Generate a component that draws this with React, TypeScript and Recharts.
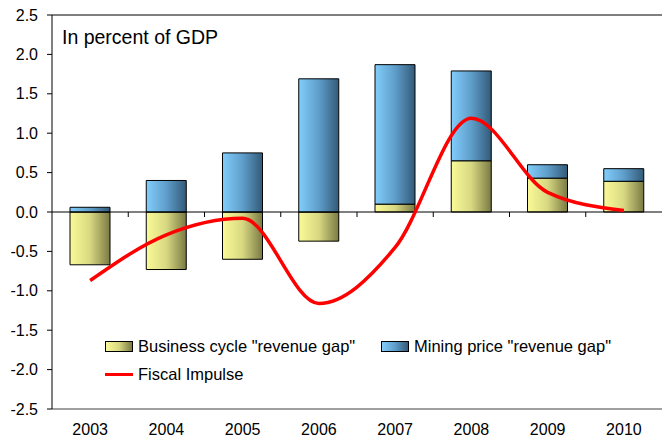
import React from 'react';
import { ComposedChart, Bar, Line, XAxis, YAxis, ReferenceLine } from 'recharts';

const years = ['2003', '2004', '2005', '2006', '2007', '2008', '2009', '2010'];
const businessCycle = [-0.67, -0.73, -0.6, -0.37, 0.1, 0.65, 0.43, 0.39];
const miningPrice = [0.06, 0.4, 0.75, 1.69, 1.77, 1.14, 0.17, 0.16];
const fiscalImpulse = [-0.87, -0.29, -0.08, -1.16, -0.45, 1.19, 0.25, 0.02];
const yTicks = [-2.5, -2, -1.5, -1, -0.5, 0, 0.5, 1, 1.5, 2, 2.5];

const data = years.map((year, i) => ({
  year,
  business: businessCycle[i],
  mining: miningPrice[i],
  fiscal: fiscalImpulse[i],
}));

const FONT = 'Arial, "Liberation Sans", sans-serif';

const ZeroLine = (props: any) => {
  const { x1, x2, y1 } = props;
  const n = years.length;
  const step = (x2 - x1) / n;
  const ticks = [];
  for (let i = 1; i < n; i++) {
    const x = x1 + step * i;
    ticks.push(<line key={i} x1={x} x2={x} y1={y1} y2={y1 + 5} stroke="#000" strokeWidth={1} />);
  }
  return (
    <g>
      <line x1={x1} x2={x2} y1={y1} y2={y1} stroke="#000" strokeWidth={1} />
      {ticks}
    </g>
  );
};

const Swatch = ({ grad }: { grad: string }) => (
  <div
    style={{
      width: 26,
      height: 9,
      border: '1px solid #000',
      background: grad,
      marginRight: 5,
    }}
  />
);

const yellowGrad = 'linear-gradient(to right, #fafa98, #d8d882 50%, #7a7a44)';
const blueGrad = 'linear-gradient(to right, #82cdfb, #5f9ecb 50%, #335a78)';

export default function App() {
  return (
    <div style={{ position: 'absolute', left: 0, top: 0, width: 662, height: 443, background: '#fff', fontFamily: FONT }}>
      <ComposedChart
        width={662}
        height={443}
        data={data}
        stackOffset="sign"
        margin={{ top: 15, right: 0, bottom: 0, left: 0 }}
      >
        <defs>
          <linearGradient id="gY" x1="0" y1="0" x2="1" y2="0">
            <stop offset="0%" stopColor="#fafa98" />
            <stop offset="50%" stopColor="#d8d882" />
            <stop offset="100%" stopColor="#7a7a44" />
          </linearGradient>
          <linearGradient id="gB" x1="0" y1="0" x2="1" y2="0">
            <stop offset="0%" stopColor="#82cdfb" />
            <stop offset="50%" stopColor="#5f9ecb" />
            <stop offset="100%" stopColor="#335a78" />
          </linearGradient>
        </defs>
        <XAxis
          dataKey="year"
          tickLine={false}
          axisLine={{ stroke: '#808080', strokeWidth: 1.5 }}
          tick={{ fill: '#000', fontSize: 16, fontFamily: FONT }}
          height={34}
          tickMargin={9}
          interval={0}
        />
        <YAxis
          domain={[-2.5, 2.5]}
          ticks={yTicks}
          tickFormatter={(v: number) => v.toFixed(1)}
          width={52}
          tickSize={5}
          tickMargin={9}
          axisLine={{ stroke: '#000' }}
          tickLine={{ stroke: '#000' }}
          tick={{ fill: '#000', fontSize: 16, fontFamily: FONT }}
          allowDataOverflow
        />
        <ReferenceLine y={2.5} stroke="#000" strokeWidth={1} ifOverflow="extendDomain" />
        <Bar
          dataKey="business"
          stackId="a"
          fill="url(#gY)"
          stroke="#000"
          strokeWidth={1}
          barSize={40}
          isAnimationActive={false}
        />
        <Bar
          dataKey="mining"
          stackId="a"
          fill="url(#gB)"
          stroke="#000"
          strokeWidth={1}
          barSize={40}
          isAnimationActive={false}
        />
        <ReferenceLine y={0} shape={ZeroLine} />
        <Line
          type="monotone"
          dataKey="fiscal"
          stroke="#ff0000"
          strokeWidth={3.5}
          dot={false}
          activeDot={false}
          isAnimationActive={false}
        />
      </ComposedChart>
      <div style={{ position: 'absolute', left: 62, top: 26, fontSize: 19.5, color: '#000', lineHeight: '22px' }}>
        In percent of GDP
      </div>
      <div style={{ position: 'absolute', left: 105, top: 336, fontSize: 16.5, color: '#000' }}>
        <div style={{ display: 'flex', alignItems: 'center', height: 20 }}>
          <Swatch grad={yellowGrad} />
          <span style={{ width: 243 }}>Business cycle "revenue gap"</span>
          <Swatch grad={blueGrad} />
          <span>Mining price "revenue gap"</span>
        </div>
        <div style={{ display: 'flex', alignItems: 'center', height: 20, marginTop: 8 }}>
          <div style={{ width: 28, height: 3, background: '#ff0000', marginRight: 5 }} />
          <span>Fiscal Impulse</span>
        </div>
      </div>
    </div>
  );
}
